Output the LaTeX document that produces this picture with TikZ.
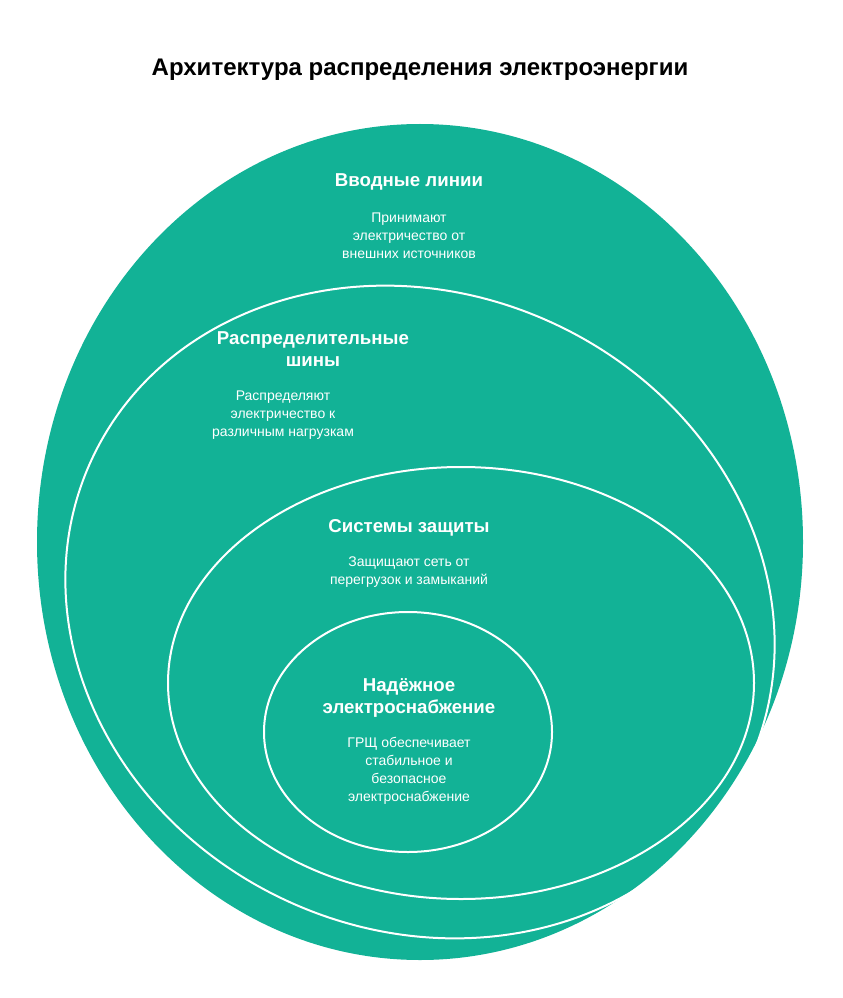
\documentclass[tikz,border=0pt]{standalone}
\usepackage{fontspec}
\setmainfont{Liberation Sans}
\begin{document}
\begin{tikzpicture}[x=0.75pt,y=-0.75pt,
  ring/.style={draw=white,line width=1.5pt},
  head/.style={text=white,font=\bfseries\fontsize{14}{17}\selectfont,align=center},
  desc/.style={text=white,font=\fontsize{10.5}{13.5}\selectfont,align=center}]
\useasboundingbox (0,0) rectangle (842,998);
\definecolor{teal}{HTML}{12B296}
\node[font=\bfseries\fontsize{18}{22}\selectfont] (title) at (420,70) {Архитектура распределения электроэнергии};
\fill[teal] (420,542) ellipse [x radius=383, y radius=418];
\draw[ring] (420,612) [rotate around={-25:(420,612)}] ellipse [x radius=362, y radius=318];
\draw[ring] (461,683) ellipse [x radius=293, y radius=216];
\draw[ring] (408,732) ellipse [x radius=144, y radius=120];
\node[head] (h1) at (409,182) {Вводные линии};
\node[desc] (d1) at (409,236) {Принимают\\электричество от\\внешних источников};
\node[head] (h2) at (313,349) {Распределительные\\шины};
\node[desc] (d2) at (283,415) {Распределяют\\электричество к\\различным нагрузкам};
\node[head] (h3) at (409,528) {Системы защиты};
\node[desc] (d3) at (409,572) {Защищают сеть от\\перегрузок и замыканий};
\node[head] (h4) at (409,698) {Надёжное\\электроснабжение};
\node[desc] (d4) at (409,771) {ГРЩ обеспечивает\\стабильное и\\безопасное\\электроснабжение};
\end{tikzpicture}
\end{document}
